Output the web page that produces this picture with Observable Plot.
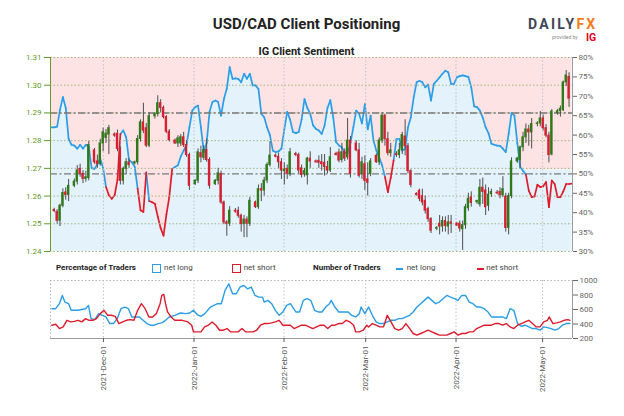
<!DOCTYPE html>
<html><head><meta charset="utf-8">
<script src="https://cdn.jsdelivr.net/npm/d3@7"></script>
<script src="https://cdn.jsdelivr.net/npm/@observablehq/plot@0.6"></script>
<style>
body{margin:0;background:#fff;font-family:Roboto,"Liberation Sans",sans-serif;}
#wrap{position:relative;width:624px;height:416px;overflow:hidden;background:#fff;}
.abs{position:absolute;line-height:1;white-space:nowrap;}
.box{position:absolute;width:9px;height:9px;box-sizing:border-box;border-width:1.6px;border-style:solid;}
.dash{position:absolute;width:7px;height:2px;}
</style></head><body><div id="wrap"></div>
<script>
// ---------- data ----------
// day index: days since 2021-11-14 (Sunday); candles on every day except Saturdays
const open = [
1.2550,1.2543,1.2511,1.2565,1.2613,1.2604,
1.2637,1.2652,1.2698,1.2680,1.2662,1.2665,
1.2765,1.2725,1.2715,1.2790,1.2810,1.2822,
1.2822,1.2825,1.2770,1.2655,1.2698,1.2722,
1.2718,1.2722,1.2806,1.2866,1.2845,1.2782,
1.2888,1.2896,1.2935,1.2918,1.2885,1.2832,
1.2800,1.2790,1.2790,1.2812,1.2784,1.2748,
1.2643,1.2655,1.2755,1.2738,1.2766,1.2730,
1.2643,1.2655,1.2680,1.2577,1.2505,1.2500,
1.2547,1.2547,1.2529,1.2499,1.2515,1.2500,
1.2577,1.2560,1.2625,1.2620,1.2656,1.2712,
1.2746,1.2742,1.2722,1.2690,1.2698,1.2680,
1.2752,1.2748,1.2700,1.2680,1.2675,1.2735,
1.2725,1.2727,1.2722,1.2720,1.2705,1.2692,
1.2752,1.2757,1.2730,1.2760,1.2740,1.2800,
1.2790,1.2765,1.2680,1.2715,1.2660,1.2680,
1.2745,1.2722,1.2800,1.2890,1.2805,1.2755,
1.2752,1.2748,1.2765,1.2815,1.2780,1.2690,
1.2608,1.2619,1.2600,1.2583,1.2553,1.2517,
1.2482,1.2500,1.2490,1.2510,1.2490,1.2505,
1.2500,1.2500,1.2480,1.2495,1.2556,1.2595,
1.2578,1.2570,1.2630,1.2620,1.2565,1.2607,
1.2612,1.2615,1.2603,1.2598,1.2485,1.2600,
1.2725,1.2730,1.2776,1.2812,1.2840,1.2830,
1.2860,1.2862,1.2880,1.2845,1.2818,1.2750,
1.2900,1.2906,1.2910,1.3010,1.3030];
const high = [
1.2556,1.2551,1.2571,1.2626,1.2630,1.2660,
1.2662,1.2710,1.2715,1.2692,1.2690,1.2797,
1.2772,1.2748,1.2805,1.2845,1.2840,1.2855,
1.2828,1.2838,1.2778,1.2705,1.2735,1.2735,
1.2726,1.2818,1.2875,1.2935,1.2862,1.2900,
1.2900,1.2962,1.2948,1.2925,1.2890,1.2840,
1.2806,1.2818,1.2822,1.2830,1.2800,1.2755,
1.2660,1.2770,1.2780,1.2782,1.2805,1.2738,
1.2660,1.2700,1.2690,1.2582,1.2512,1.2562,
1.2555,1.2560,1.2535,1.2530,1.2525,1.2595,
1.2582,1.2640,1.2645,1.2668,1.2720,1.2796,
1.2752,1.2755,1.2735,1.2720,1.2712,1.2772,
1.2758,1.2755,1.2712,1.2700,1.2740,1.2760,
1.2730,1.2745,1.2750,1.2750,1.2725,1.2775,
1.2758,1.2770,1.2790,1.2770,1.2880,1.2815,
1.2800,1.2790,1.2740,1.2745,1.2720,1.2735,
1.2752,1.2810,1.2900,1.2895,1.2830,1.2790,
1.2760,1.2790,1.2830,1.2875,1.2790,1.2695,
1.2612,1.2625,1.2625,1.2600,1.2560,1.2522,
1.2490,1.2530,1.2525,1.2525,1.2530,1.2530,
1.2505,1.2510,1.2510,1.2570,1.2610,1.2615,
1.2585,1.2660,1.2665,1.2640,1.2630,1.2625,
1.2620,1.2630,1.2670,1.2610,1.2610,1.2738,
1.2740,1.2780,1.2830,1.2860,1.2855,1.2880,
1.2868,1.2905,1.2892,1.2858,1.2830,1.2912,
1.2912,1.2925,1.3015,1.3053,1.3045];
const low = [
1.2540,1.2499,1.2490,1.2558,1.2585,1.2580,
1.2630,1.2640,1.2668,1.2645,1.2650,1.2655,
1.2715,1.2700,1.2708,1.2760,1.2790,1.2750,
1.2812,1.2760,1.2640,1.2640,1.2680,1.2700,
1.2712,1.2712,1.2795,1.2825,1.2775,1.2775,
1.2878,1.2885,1.2900,1.2878,1.2825,1.2795,
1.2786,1.2775,1.2778,1.2775,1.2740,1.2620,
1.2638,1.2645,1.2720,1.2728,1.2722,1.2625,
1.2638,1.2640,1.2570,1.2497,1.2455,1.2490,
1.2538,1.2520,1.2470,1.2450,1.2450,1.2490,
1.2555,1.2552,1.2580,1.2600,1.2645,1.2705,
1.2738,1.2700,1.2660,1.2640,1.2660,1.2670,
1.2742,1.2680,1.2665,1.2668,1.2640,1.2700,
1.2718,1.2700,1.2690,1.2672,1.2680,1.2685,
1.2745,1.2720,1.2720,1.2725,1.2730,1.2665,
1.2760,1.2665,1.2660,1.2620,1.2600,1.2670,
1.2718,1.2710,1.2790,1.2780,1.2745,1.2740,
1.2740,1.2735,1.2750,1.2745,1.2680,1.2630,
1.2600,1.2580,1.2565,1.2535,1.2505,1.2465,
1.2475,1.2460,1.2470,1.2470,1.2460,1.2465,
1.2490,1.2470,1.2404,1.2480,1.2545,1.2560,
1.2570,1.2560,1.2570,1.2530,1.2545,1.2595,
1.2605,1.2590,1.2595,1.2470,1.2460,1.2590,
1.2718,1.2700,1.2760,1.2790,1.2780,1.2770,
1.2850,1.2850,1.2835,1.2810,1.2720,1.2745,
1.2892,1.2885,1.2905,1.2995,1.2920];
const close = [
1.2546,1.2511,1.2565,1.2611,1.2604,1.2637,
1.2652,1.2692,1.2680,1.2662,1.2668,1.2784,
1.2722,1.2715,1.2790,1.2830,1.2825,1.2845,
1.2818,1.2770,1.2655,1.2698,1.2722,1.2712,
1.2722,1.2806,1.2866,1.2836,1.2782,1.2888,
1.2896,1.2935,1.2918,1.2885,1.2832,1.2802,
1.2790,1.2808,1.2812,1.2784,1.2748,1.2637,
1.2655,1.2758,1.2740,1.2766,1.2730,1.2637,
1.2655,1.2682,1.2577,1.2505,1.2500,1.2547,
1.2544,1.2529,1.2499,1.2515,1.2500,1.2583,
1.2560,1.2625,1.2620,1.2656,1.2712,1.2746,
1.2742,1.2722,1.2692,1.2696,1.2680,1.2758,
1.2748,1.2692,1.2676,1.2690,1.2735,1.2725,
1.2722,1.2720,1.2715,1.2705,1.2692,1.2740,
1.2748,1.2728,1.2758,1.2735,1.2800,1.2680,
1.2765,1.2673,1.2722,1.2655,1.2648,1.2725,
1.2722,1.2800,1.2890,1.2805,1.2755,1.2765,
1.2748,1.2765,1.2820,1.2780,1.2690,1.2640,
1.2604,1.2590,1.2577,1.2547,1.2517,1.2475,
1.2485,1.2490,1.2510,1.2492,1.2505,1.2500,
1.2494,1.2483,1.2495,1.2560,1.2590,1.2575,
1.2582,1.2630,1.2615,1.2560,1.2605,1.2615,
1.2610,1.2603,1.2625,1.2485,1.2600,1.2725,
1.2735,1.2776,1.2812,1.2840,1.2830,1.2860,
1.2862,1.2880,1.2845,1.2818,1.2748,1.2905,
1.2906,1.2915,1.3010,1.3035,1.2951];

// IG client sentiment: % of traders net long, one value per day from day -1 to day 180
const sentiment = [
62.0,62.0,62.2,66.5,69.8,67.0,59.0,57.5,57.3,56.5,
57.5,56.5,57.5,57.0,51.5,51.3,52.5,53.9,51.5,46.6,
44.5,43.6,44.5,48.5,60.3,61.2,59.5,53.5,53.0,51.8,
46.2,40.6,40.2,50.4,43.0,42.7,42.3,39.0,36.0,34.1,
39.5,44.0,51.3,51.8,52.2,54.5,56.0,57.5,62.0,66.3,
67.2,67.6,62.0,55.6,58.0,66.0,68.5,68.9,68.5,65.0,
69.3,72.0,77.5,74.5,74.6,74.5,73.6,75.8,74.5,75.8,
72.8,72.8,71.9,65.5,64.6,62.0,60.0,56.0,55.6,55.8,
56.5,61.5,66.0,64.0,60.8,60.5,60.8,64.0,69.3,67.0,
65.5,62.5,61.6,61.2,60.3,62.5,67.0,69.0,64.6,58.2,
57.3,56.9,55.5,55.3,58.0,62.0,66.3,65.5,63.0,68.0,
61.5,65.0,58.6,56.0,54.3,52.2,49.2,45.3,49.0,53.5,
59.0,59.0,56.0,56.5,62.0,64.6,69.8,73.6,74.0,73.6,
72.3,73.0,68.9,73.2,74.0,74.9,75.8,76.6,76.2,73.2,
73.2,74.9,75.2,75.4,75.2,75.0,72.3,67.4,67.2,66.3,
64.5,62.0,60.5,57.8,57.5,57.3,57.2,56.5,55.6,60.3,
65.7,65.0,58.0,51.8,50.8,49.8,45.7,44.0,44.2,47.2,
46.6,46.8,47.9,41.4,48.3,47.4,44.0,44.0,45.5,47.4,
47.4,47.5];
const holdFrom = 163, holdLevel = 51;   // shaded band stops following the line here

// Number of traders
const longDays = [-0.8,0.5,1.8,2.8,3.7,5,5.9,7,8.3,9.6,10.9,11.9,12.8,14.1,15.4,16.7,18,19.3,20.6,21.9,
23.2,24.5,25.8,27,28.3,29.6,30.9,32.2,33.5,34.8,36.1,37.4,38.7,40,41.9,43.9,45.8,47.1,48.4,49.7,
51,52.3,54.3,55.5,56.8,58.1,59.4,60.7,62,63.3,64.6,65.9,67.2,68.5,69.8,71.1,72.4,73,74.3,75.6,
76.9,78.2,79.5,80.8,82.1,84,85.3,86.6,87.9,89.2,90.5,91.8,93.1,94.4,95.7,96.3,97.6,98.9,100.9,102.2,
103.4,104.8,106.1,106.7,108,109.3,110.6,111.9,113.2,114.5,115.8,117.1,118.4,119.7,121,122.3,123.6,124.8,126.1,127.4,
128.7,130,131.3,132.6,133.9,135.2,136.5,137.8,139.1,140.4,141.7,143,144.3,145.6,146.9,148.2,149.5,150.8,152,153.3,
154.6,155.9,157.2,158.5,159.8,161.1,162.4,163.7,165,166.3,167.6,168.9,170.2,171.5,172.8,174.1,175.4,176.7,178,179.3];
const longCount = [611,611,680,794,703,680,589,589,589,600,611,657,474,461,543,520,497,406,406,474,
611,634,611,497,497,497,451,406,383,383,406,415,451,497,520,552,543,552,589,530,
506,540,634,657,680,680,863,954,817,817,909,931,886,909,794,771,771,703,726,680,
589,520,566,657,680,566,566,726,749,726,589,566,566,634,680,726,634,566,566,566,
520,497,543,634,543,634,520,429,406,406,429,451,451,474,474,497,520,566,634,680,
726,771,726,680,703,749,794,771,749,726,794,794,703,680,634,634,611,566,497,497,
497,497,474,611,589,406,369,383,360,337,337,314,360,350,337,314,337,383,406,406];
const shortDays = [-0.8,0.5,1.8,3.1,4.4,5.7,7,8.3,9.6,10.9,12.1,13.4,14.7,16,17.3,18.6,19.9,21.2,22.5,23.8,
25.1,26.4,27.7,29,30.3,31.6,32.9,34.2,35.5,36.8,37.4,38.1,38.7,39.4,40.6,41.9,44.5,46.5,47.8,48.4,
49.7,51,52.3,53.6,54.9,56.2,57.5,58.8,60.1,61.4,62.7,63.9,65.3,66.6,67.9,69.2,70.4,71.7,73,74.3,
75.6,76.9,78.2,79.5,80.8,82.1,83.4,84.7,86,87.3,88.6,89.9,91.2,92.5,93.8,95.1,96.4,97.6,98.9,100.2,
101.5,102.8,104.1,104.8,106.1,107.4,108.7,109.3,110.6,111.9,113.2,114.5,115.8,117.1,118.4,119.7,121,122.3,123.6,124.8,
126.1,127.4,128.7,130,131.3,132.6,133.9,135.2,136.5,137.8,139.1,140.4,141.7,143,144.3,145.6,146.9,148.2,149.5,150.8,
152,153.3,154.6,155.9,157.2,158.5,159.8,161.1,162.4,163.7,165,166.3,167.6,168.9,170.2,171.5,172.1,173.4,174.7,176,
177.3,178.6,179.3];
const shortCount = [383,397,337,360,451,429,437,451,429,474,451,451,474,543,589,520,520,506,406,429,
451,461,451,589,680,611,497,497,543,680,794,808,680,566,497,451,451,429,383,291,
291,291,360,383,429,383,314,314,337,291,291,291,337,291,291,291,314,383,406,406,
415,429,451,383,383,383,337,360,383,383,360,337,360,383,383,337,383,383,406,406,
451,429,383,291,291,314,383,360,406,383,360,360,520,429,337,314,337,406,337,269,
246,269,291,314,291,269,246,246,246,269,291,246,269,269,291,291,337,360,383,383,
383,406,406,383,406,360,337,383,406,429,451,406,360,360,429,451,497,406,415,429,
451,461,451];

const priceTicks = [1.24,1.25,1.26,1.27,1.28,1.29,1.30,1.31];
const pctTicks = [30,35,40,45,50,55,60,65,70,75,80];
const countTicks = [200,400,600,800,1000];
const tickLabels = ["2021-Dec-01","2022-Jan-01","2022-Feb-01","2022-Mar-01","2022-Apr-01","2022-May-01"];
const tickDays = [17.1,48.6,79.9,108.3,139.7,169.8];
const refPrice = 1.29;

// ---------- styles ----------
const BLUE = "#2a9de6", RED = "#dc1c2c", GREEN = "#2f7a18", CRED = "#d42030";
const PINK = "#fde3e3", LBLUE = "#e4f2fc";
const xScale = {type: "linear", domain: [-1.3, 180.2]};
const X0 = xScale.domain[0], X1 = xScale.domain[1];
const mainM = {width: 624, height: 260, marginTop: 57, marginBottom: 9, marginLeft: 50, marginRight: 52};
const font = {fontFamily: "Roboto, sans-serif", fontSize: "8px"};

const candleDays = d3.range(0, 180).filter(d => d % 7 !== 6);
const candles = candleDays.map((d, i) => ({d, o: open[i], h: high[i], l: low[i], c: close[i]}));
const sentDays = d3.range(-1, 181);
const sentData = sentDays.map((d, i) => ({d, v: sentiment[i], edge: d >= holdFrom ? Math.max(sentiment[i], holdLevel) : sentiment[i]}));
const segs = d3.pairs(sentData).map(([a, b]) => ({d1: a.d, v1: a.v, d2: b.d, v2: b.v, long: a.v >= 50}));
const longData = longDays.map((d, i) => ({d, v: longCount[i]}));
const shortData = shortDays.map((d, i) => ({d, v: shortCount[i]}));
const labelOf = new Map(tickDays.map((d, i) => [d, tickLabels[i]]));

const svg1 = Plot.plot({
  ...mainM, x: {...xScale, axis: null}, y: {domain: [30, 80]},
  style: {...font, background: "#fff"},
  marks: [
    Plot.areaY(sentData, {x: "d", y1: "edge", y2: 80, fill: PINK}),
    Plot.areaY(sentData, {x: "d", y1: 30, y2: "edge", fill: LBLUE}),
    Plot.ruleY([50], {stroke: "#7a7a7a", strokeWidth: 1.4, strokeDasharray: "7,2.5,2,2.5"}),
    Plot.link(segs.filter(s => s.long), {x1: "d1", y1: "v1", x2: "d2", y2: "v2", stroke: BLUE, strokeWidth: 1.7, strokeLinecap: "round"}),
    Plot.link(segs.filter(s => !s.long), {x1: "d1", y1: "v1", x2: "d2", y2: "v2", stroke: RED, strokeWidth: 1.7, strokeLinecap: "round"}),
    Plot.ruleX([X1], {stroke: "#9a9a9a"}),
    Plot.axisY({anchor: "right", ticks: pctTicks, tickFormat: d => d + "%", tickSize: 4, tickPadding: 2, color: "#666", label: null})
  ]
});

const svg2 = Plot.plot({
  ...mainM, x: {...xScale, axis: null}, y: {domain: [1.24, 1.31]},
  style: {...font, background: "transparent"},
  marks: [
    Plot.ruleX(tickDays, {stroke: "#c2c2c2", strokeDasharray: "1.5,2"}),
    Plot.ruleY(priceTicks, {stroke: "#a5b283", strokeDasharray: "1.5,2"}),
    Plot.ruleY([refPrice], {stroke: "#7a7a7a", strokeWidth: 1.4, strokeDasharray: "7,2.5,2,2.5"}),
    Plot.ruleX(candles, {x: "d", y1: "l", y2: "h", stroke: "#4d4d4d", strokeWidth: 1}),
    Plot.rect(candles.filter(c => c.c >= c.o), {x1: c => c.d - 0.41, x2: c => c.d + 0.41, y1: "o", y2: "c", fill: GREEN, insetTop: -0.5, insetBottom: -0.5}),
    Plot.rect(candles.filter(c => c.c < c.o), {x1: c => c.d - 0.41, x2: c => c.d + 0.41, y1: "o", y2: "c", fill: CRED, insetTop: -0.5, insetBottom: -0.5}),
    Plot.ruleX([X0], {stroke: "#6a9d2f"}),
    Plot.axisY({anchor: "left", ticks: priceTicks, tickFormat: d3.format(".2f"), tickSize: 6, tickPadding: 3, color: "#5f9a28", label: null})
  ]
});

const svg3 = Plot.plot({
  width: 624, height: 144, marginTop: 8, marginBottom: 78, marginLeft: 50, marginRight: 52,
  x: xScale, y: {domain: [200, 1000]},
  style: {...font, background: "#fff"},
  marks: [
    Plot.ruleX(tickDays, {stroke: "#c2c2c2", strokeDasharray: "1.5,2"}),
    Plot.ruleY([1000], {stroke: "#b5b5b5", strokeDasharray: "1.5,2"}),
    Plot.ruleX([X0], {stroke: "#b5b5b5", strokeDasharray: "1.5,2"}),
    Plot.line(longData, {x: "d", y: "v", stroke: BLUE, strokeWidth: 1.4}),
    Plot.line(shortData, {x: "d", y: "v", stroke: RED, strokeWidth: 1.4}),
    Plot.ruleY([200], {stroke: "#9a9a9a"}),
    Plot.ruleX([X1], {stroke: "#9a9a9a"}),
    Plot.axisY({anchor: "right", ticks: countTicks, tickFormat: d => String(d), tickSize: 5, tickPadding: 2, color: "#666", label: null}),
    Plot.axisX({anchor: "bottom", ticks: tickDays, tickFormat: d => labelOf.get(d), tickRotate: -90, tickSize: 4, tickPadding: 3, color: "#555", label: null})
  ]
});

const wrap = document.getElementById("wrap");
function place(el, top) { el.style.position = "absolute"; el.style.left = "0px"; el.style.top = top + "px"; wrap.appendChild(el); }
place(svg1, 0);
place(svg2, 0);
place(svg3, 272);

function txt(html, css) { const d = document.createElement("div"); d.className = "abs"; d.innerHTML = html; d.style.cssText += css; wrap.appendChild(d); return d; }
function swatch(cls, css) { const d = document.createElement("div"); d.className = cls; d.style.cssText += css; wrap.appendChild(d); return d; }
txt("USD/CAD Client Positioning", "left:0;width:613px;text-align:center;top:17.4px;font-size:15px;font-weight:bold;color:#222;");
txt("IG Client Sentiment", "left:0;width:613px;text-align:center;top:46.3px;font-size:11px;font-weight:bold;color:#222;");
txt('DAILY<span style="color:#f47b20">FX</span>', "left:528px;top:17px;font-size:14px;font-weight:bold;letter-spacing:2.3px;color:#3c4757;");
txt("provided by", "left:552px;top:35.4px;font-size:5px;color:#8a8a8a;");
txt("IG", "left:586px;top:32.6px;font-size:10.5px;font-weight:bold;color:#e3001b;");

// legend
txt("Percentage of Traders", "left:56px;top:264.3px;font-size:8px;font-weight:bold;color:#222;");
swatch("box", `left:152px;top:264px;border-color:${BLUE};background:#fff;`);
txt("net long", "left:164px;top:264.3px;font-size:8px;color:#444;");
swatch("box", `left:231.5px;top:264px;border-color:${RED};background:#fff;`);
txt("net short", "left:243.7px;top:264.3px;font-size:8px;color:#444;");
txt("Number of Traders", "left:313px;top:264.3px;font-size:8px;font-weight:bold;color:#222;");
swatch("dash", `left:396px;top:267.5px;background:${BLUE};`);
txt("net long", "left:406.7px;top:264.3px;font-size:8px;color:#444;");
swatch("dash", `left:476.5px;top:267.5px;background:${RED};`);
txt("net short", "left:486.3px;top:264.3px;font-size:8px;color:#444;");
</script>
</body></html>
